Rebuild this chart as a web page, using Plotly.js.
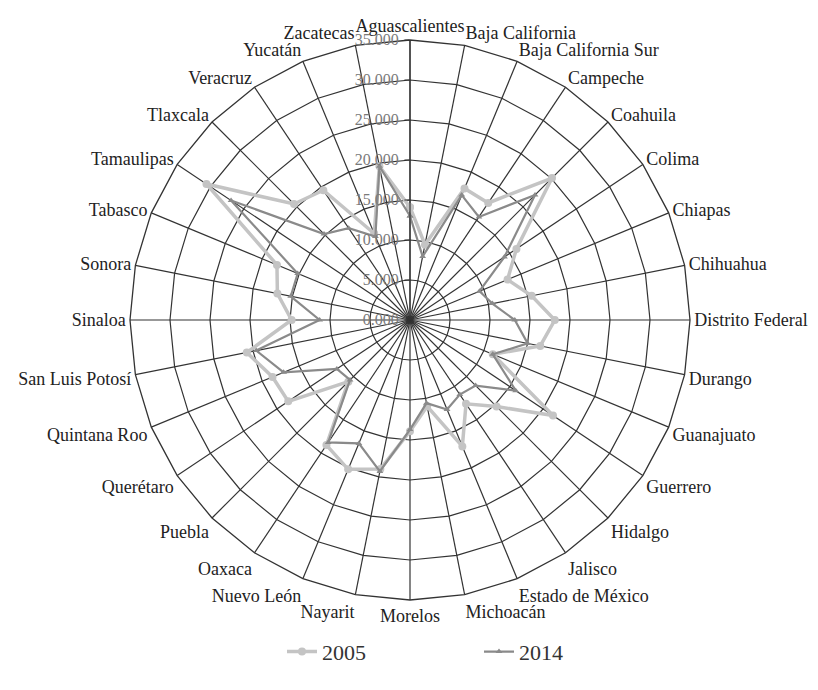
<!DOCTYPE html>
<html>
<head>
<meta charset="utf-8">
<script src="https://cdn.plot.ly/plotly-3.0.1.min.js"></script>
<style>html,body{margin:0;padding:0;background:#fff;}#chart{width:818px;height:690px;}</style>
</head>
<body>
<div id="chart"></div>
<script>
const states = ["Aguascalientes","Baja California","Baja California Sur","Campeche","Coahuila","Colima","Chiapas","Chihuahua","Distrito Federal","Durango","Guanajuato","Guerrero","Hidalgo","Jalisco","Estado de México","Michoacán","Morelos","Nayarit","Nuevo León","Oaxaca","Puebla","Querétaro","Quintana Roo","San Luis Potosí","Sinaloa","Sonora","Tabasco","Tamaulipas","Tlaxcala","Veracruz","Yucatán","Zacatecas"];
const v2005 = [14100,9600,17800,17600,25100,16000,13200,15500,18100,16600,11200,21500,15300,12600,17100,11000,13900,19000,20200,18800,10900,18300,18600,20800,14800,16900,18000,30600,20500,19500,11700,19600];
const v2014 = [13000,8100,16900,15500,22100,14200,9400,10500,13100,15000,11200,15900,11600,11200,12100,10600,13700,19300,16700,18400,10600,11000,17100,19600,11300,15200,15200,26900,15200,13800,11300,19600];
const radialTicks = [0,5000,10000,15000,20000,25000,30000,35000];
const radialTickText = ["0.000","5.000","10.000","15.000","20.000","25.000","30.000","35.000"];
const seriesNames = ["2005","2014"];

function closed(a){ return a.concat([a[0]]); }

const traces = [
  {type:'scatterpolar', name:seriesNames[0], r:closed(v2005), theta:closed(states), mode:'lines+markers',
   line:{color:'#c4c4c4', width:3.5}, marker:{symbol:'circle', size:8, color:'#c4c4c4'}},
  {type:'scatterpolar', name:seriesNames[1], r:closed(v2014), theta:closed(states), mode:'lines+markers',
   line:{color:'#8a8a8a', width:2.2}, marker:{symbol:'triangle-up', size:6, color:'#8a8a8a'}}
];

const layout = {
  width:818, height:690,
  margin:{l:0,r:0,t:0,b:0},
  paper_bgcolor:'#fff',
  font:{family:'Liberation Serif, DejaVu Serif, serif', color:'#222', size:18},
  showlegend:true,
  legend:{orientation:'h', x:282/818, xanchor:'left', y:0.025, yanchor:'bottom',
          font:{size:22, color:'#333'}, entrywidth:152, itemwidth:30},
  polar:{
    domain:{x:[130/818, 690/818], y:[1-600/690, 1-40/690]},
    bgcolor:'#fff',
    gridshape:'linear',
    angularaxis:{type:'category', categoryarray:states, rotation:90, direction:'clockwise',
      showline:true, linecolor:'#333', linewidth:1.3,
      showgrid:true, gridcolor:'#333', gridwidth:1.2,
      ticks:'', tickfont:{size:18, color:'#222', family:'Liberation Serif, DejaVu Serif, serif'}},
    radialaxis:{range:[0,35000], angle:90, side:'counterclockwise',
      tickvals:radialTicks, ticktext:radialTickText,
      showline:true, linecolor:'#333', linewidth:1.2,
      showgrid:true, gridcolor:'#333', gridwidth:1.2,
      ticks:'outside', ticklen:5, tickcolor:'#333',
      tickfont:{size:16, color:'#7a7a7a', family:'Liberation Serif, DejaVu Serif, serif'}, tickangle:90}
  }
};
Plotly.newPlot('chart', traces, layout, {displayModeBar:false, staticPlot:true});
</script>
</body>
</html>
